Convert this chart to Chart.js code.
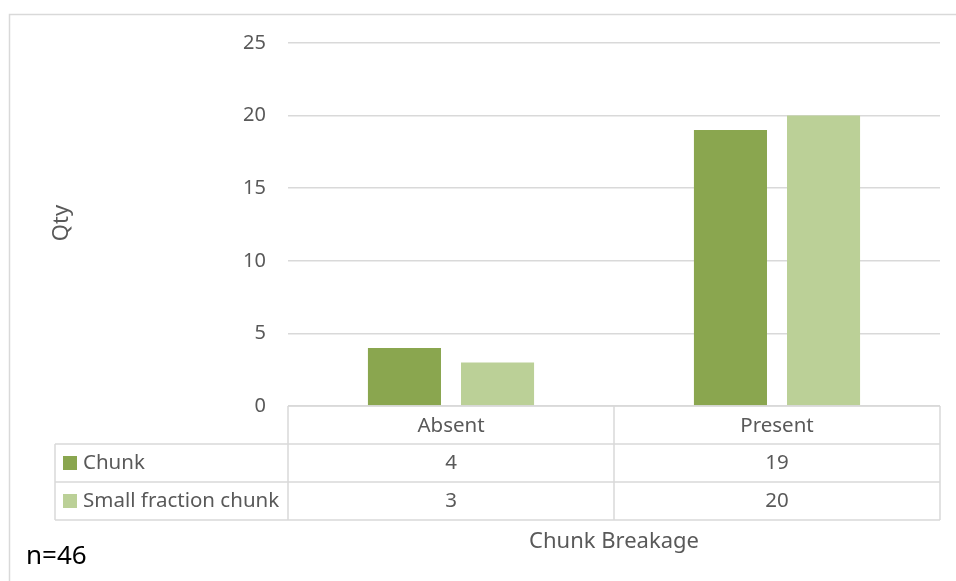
<!DOCTYPE html>
<html lang="en">
  <head>
    <meta charset="UTF-8" />
    <title>Chunk Breakage</title>
    <script src="https://cdn.jsdelivr.net/npm/chart.js"></script>
    <style>
      html, body { margin: 0; padding: 0; background: #fff; }
      #wrap { position: relative; width: 956px; height: 581px; }
    </style>
  </head>
  <body>
    <div id="wrap"><canvas id="breakageChart"></canvas></div>
    <script>
      // data
      const categories = ["Absent", "Present"];
      const seriesNames = ["Chunk", "Small fraction chunk"];
      const chunkValues = [4, 19];
      const smallFractionValues = [3, 20];
      const yTicks = [0, 5, 10, 15, 20, 25];
      const seriesColors = ["#8aa64f", "#bbd097"];

      const FONT = "'Noto Sans', 'Open Sans', sans-serif";
      const TEXT = "#595959";
      const LINE = "#d9d9d9";
      const ROW_H = 38;

      // draws frame, data table, axis titles and note
      const tablePlugin = {
        id: "dataTable",
        afterDraw(chart) {
          const ctx = chart.ctx;
          const area = chart.chartArea;
          const x = chart.scales.x;
          const top = area.bottom;
          const centers = categories.map((c, i) => x.getPixelForValue(i));
          const mid = (centers[0] + centers[1]) / 2;
          const labelLeft = 55;
          const rows = [chunkValues, smallFractionValues];
          const bottom = top + ROW_H * (rows.length + 1);

          ctx.save();
          ctx.strokeStyle = LINE;
          ctx.lineWidth = 1.5;
          // outer frame
          ctx.beginPath();
          ctx.moveTo(9.5, chart.height);
          ctx.lineTo(9.5, 14.5);
          ctx.lineTo(chart.width, 14.5);
          ctx.stroke();

          // table grid
          ctx.beginPath();
          [area.left, mid, area.right].forEach((px) => {
            ctx.moveTo(px, top);
            ctx.lineTo(px, bottom);
          });
          ctx.moveTo(labelLeft, top + ROW_H);
          ctx.lineTo(labelLeft, bottom);
          ctx.moveTo(area.left, top);
          ctx.lineTo(area.right, top);
          for (let r = 1; r <= rows.length + 1; r++) {
            ctx.moveTo(labelLeft, top + ROW_H * r);
            ctx.lineTo(area.right, top + ROW_H * r);
          }
          ctx.stroke();

          ctx.fillStyle = TEXT;
          ctx.font = "20.5px " + FONT;
          ctx.textBaseline = "middle";
          ctx.textAlign = "center";
          categories.forEach((c, i) => {
            ctx.fillText(c, centers[i], top + ROW_H / 2 + 1);
          });
          rows.forEach((vals, r) => {
            const cy = top + ROW_H * (r + 1.5);
            vals.forEach((v, i) => ctx.fillText(String(v), centers[i], cy));
            ctx.fillStyle = seriesColors[r];
            ctx.fillRect(63, cy - 7, 14, 14);
            ctx.fillStyle = TEXT;
            ctx.textAlign = "left";
            ctx.fillText(seriesNames[r], 83, cy);
            ctx.textAlign = "center";
          });

          // axis titles
          ctx.font = "22px " + FONT;
          ctx.fillText("Chunk Breakage", mid, 542);
          ctx.save();
          ctx.translate(62, 223);
          ctx.rotate(-Math.PI / 2);
          ctx.fillText("Qty", 0, 0);
          ctx.restore();

          // sample size note
          ctx.fillStyle = "#000";
          ctx.textAlign = "left";
          ctx.font = "26px " + FONT;
          ctx.fillText("n=46", 26, 557);
          ctx.restore();
        },
      };

      const ctx = document.getElementById("breakageChart").getContext("2d");
      const breakageChart = new Chart(ctx, {
        type: "bar",
        data: {
          labels: categories,
          datasets: [
            {
              label: seriesNames[0],
              data: chunkValues,
              backgroundColor: seriesColors[0],
            },
            {
              label: seriesNames[1],
              data: smallFractionValues,
              backgroundColor: seriesColors[1],
            },
          ],
        },
        options: {
          responsive: true,
          maintainAspectRatio: false,
          animation: false,
          categoryPercentage: 0.571,
          barPercentage: 0.785,
          layout: { padding: { left: 9, top: 43, right: 16, bottom: 175 } },
          plugins: {
            legend: { display: false },
            tooltip: { enabled: false },
          },
          scales: {
            x: { display: false },
            y: {
              min: 0,
              max: 25,
              afterFit: (scale) => { scale.width = 279; },
              afterBuildTicks: (scale) => {
                scale.ticks = yTicks.map((v) => ({ value: v }));
              },
              border: { display: false },
              grid: { color: LINE, lineWidth: 1.5, drawTicks: false },
              ticks: {
                color: TEXT,
                font: { family: FONT, size: 20 },
                padding: 22,
              },
            },
          },
        },
        plugins: [tablePlugin],
      });
    </script>
  </body>
</html>
